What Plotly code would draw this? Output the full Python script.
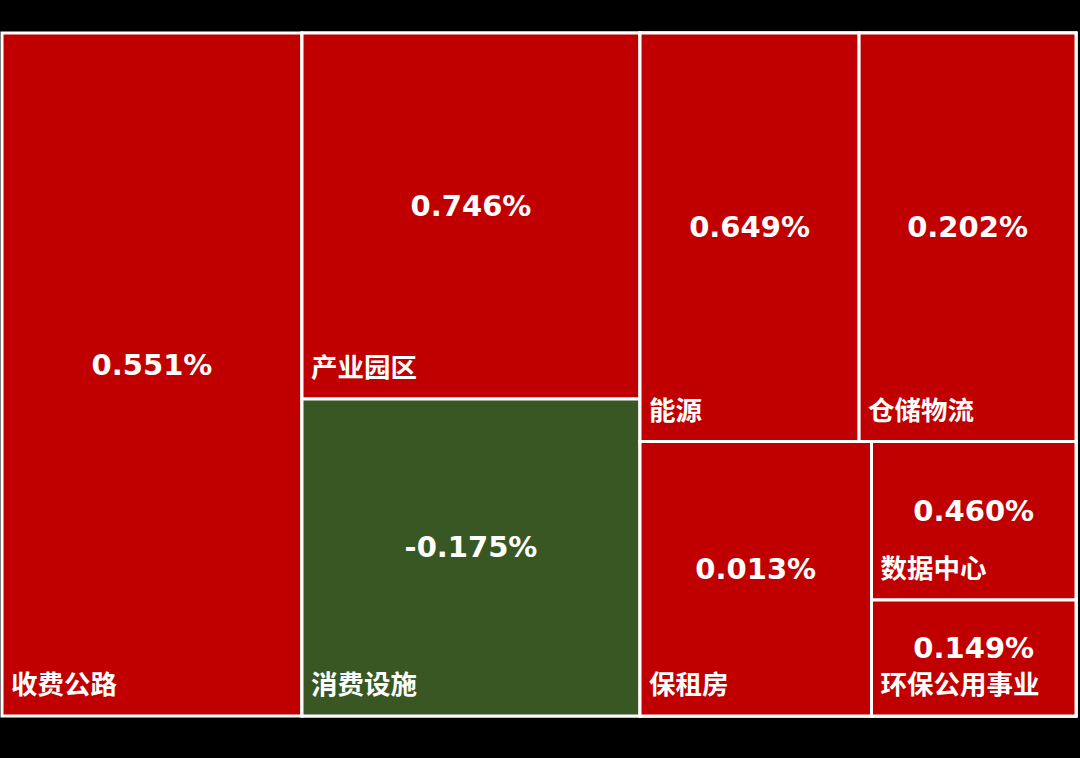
import plotly.graph_objects as go

# ---- data ----
sectors = ["收费公路", "产业园区", "消费设施", "能源", "仓储物流", "保租房", "数据中心", "环保公用事业"]
changes = [0.551, 0.746, -0.175, 0.649, 0.202, 0.013, 0.460, 0.149]      # % change
weights = [27.93, 16.86, 14.61, 12.20, 12.08, 8.66, 4.42, 3.23]           # tile size share
leaf_parent = ["", "B", "B", "C1", "C1", "C2", "C22", "C22"]
group_ids = ["B", "C", "C1", "C2", "C22"]
group_parent = ["", "", "C", "C", "C2"]

RED = "#C00000"
GREEN = "#385723"

# build ordered node list (parents listed before their children, in display order)
order = ["收费公路", "B", "产业园区", "消费设施", "C", "C1", "能源", "仓储物流",
         "C2", "保租房", "C22", "数据中心", "环保公用事业"]
ids, parents, values, colors, lab_text, pct_text = [], [], [], [], [], []
for node in order:
    ids.append(node)
    if node in sectors:
        i = sectors.index(node)
        parents.append(leaf_parent[i])
        values.append(weights[i])
        colors.append(RED if changes[i] >= 0 else GREEN)
        lab_text.append("\u00a0" + node)
        pct_text.append(f"{changes[i]:.3f}%")
    else:
        g = group_ids.index(node)
        parents.append(group_parent[g])
        values.append(0)
        colors.append(RED)
        lab_text.append("")
        pct_text.append("")

W, H = 1080, 758
dom_x = [2 / W, 1076 / W]
dom_y = [1 - 716 / H, 1 - 33 / H]


def lifted(px):
    return [dom_y[0] + px / H, dom_y[1] + px / H]


common = dict(
    ids=ids, labels=ids, parents=parents, values=values, branchvalues="remainder",
    sort=False, tiling=dict(packing="slice-dice", pad=0),
    pathbar=dict(visible=False), textinfo="text", hoverinfo="skip",
)
nopad = dict(t=0, l=0, r=0, b=0)
clear = ["rgba(0,0,0,0)"] * len(ids)

fig = go.Figure()
# coloured tiles
fig.add_trace(go.Treemap(
    **common,
    domain=dict(x=dom_x, y=dom_y),
    text=[""] * len(ids),
    marker=dict(colors=colors, line=dict(color="white", width=3),
                pad=nopad, depthfade=False),
))
# % change, a little above the middle of each tile
fig.add_trace(go.Treemap(
    **common,
    domain=dict(x=dom_x, y=lifted(10)),
    text=pct_text,
    textposition="middle center",
    textfont=dict(family="DejaVu Sans", size=29, color="white", weight="bold"),
    marker=dict(colors=clear, line=dict(width=0), pad=nopad, depthfade=False),
))
# sector names, bottom-left of each tile
fig.add_trace(go.Treemap(
    **common,
    domain=dict(x=dom_x, y=lifted(11)),
    text=lab_text,
    textposition="bottom left",
    textfont=dict(family="Noto Sans CJK SC", size=26.5, color="white", weight="bold"),
    marker=dict(colors=clear, line=dict(width=0), pad=nopad, depthfade=False),
))
fig.update_layout(
    width=W, height=H,
    margin=dict(l=0, r=0, t=0, b=0),
    paper_bgcolor="black", plot_bgcolor="black",
    showlegend=False,
)
fig.write_html("out.html", config={"displayModeBar": False},
               post_script="document.body.style.margin='0';")
